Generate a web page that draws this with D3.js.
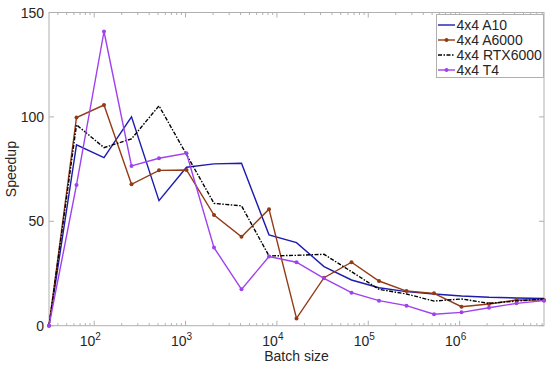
<!DOCTYPE html>
<html>
<head>
<meta charset="utf-8">
<script src="https://cdn.jsdelivr.net/npm/d3@7"></script>
<style>
  body { margin: 0; background: #fff; }
  svg text { font-family: "Liberation Sans", Arial, sans-serif; fill: #262626; }
</style>
</head>
<body>
<svg id="chart" width="550" height="369"></svg>
<script>
// batch sizes (2^5 .. 2^23)
const batchSizes = [32, 64, 128, 256, 512, 1024, 2048, 4096, 8192, 16384, 32768,
                    65536, 131072, 262144, 524288, 1048576, 2097152, 4194304, 8388608];

const speedupA10     = [0, 86.6, 80.5, 100, 59.9, 75.9, 77.5, 77.8, 43.5, 39.8, 28.3, 21.9, 18.2, 16.3, 15.2, 14.2, 13.6, 13.3, 13.0];
const speedupA6000   = [0, 99.7, 105.7, 67.7, 74.4, 74.6, 53.0, 42.6, 55.8, 3.5, 23.0, 30.4, 21.4, 16.6, 15.5, 9.1, 10.4, 12.3, 12.3];
const speedupRTX6000 = [0, 96.2, 85.3, 89.5, 105.3, 82, 58.6, 57.4, 33.4, 33.7, 34.2, 25.9, 17.4, 15.2, 11.8, 12.8, 10.7, 11.8, 12.8];
const speedupT4      = [0, 67.4, 140.9, 76.5, 80.2, 82.6, 37.4, 17.4, 33.1, 30.4, 22.7, 15.8, 12.0, 9.6, 5.5, 6.4, 8.6, 10.7, 12.0];

const seriesNames = ['4x4 A10', '4x4 A6000', '4x4 RTX6000', '4x4 T4'];
const yTicks      = [0, 50, 100, 150];
const xTicks      = [1e2, 1e3, 1e4, 1e5, 1e6];

const LEFT   = 49;
const RIGHT  = 544;
const TOP    = 12.5;
const BOTTOM = 325.7;

const series = [
    { name: seriesNames[0], values: speedupA10,     color: '#1c1cae', dash: null,        marker: false },
    { name: seriesNames[1], values: speedupA6000,   color: '#933a16', dash: null,        marker: true  },
    { name: seriesNames[2], values: speedupRTX6000, color: '#000000', dash: '4,1.5,1.5,1.5', marker: false },
    { name: seriesNames[3], values: speedupT4,      color: '#a040ef', dash: null,        marker: true  }
];

const svg = d3.select('#chart');

const x = d3.scaleLog()
    .domain([batchSizes[0], batchSizes[batchSizes.length - 1]])
    .range([LEFT, RIGHT]);

const y = d3.scaleLinear()
    .domain([0, 150])
    .range([BOTTOM, TOP]);

const axisColor = '#b0b0b0';

// minor ticks for the log axis
const minorTicks = [];
for (let e = 1; e <= 6; e++) {
    for (let m = 2; m <= 9; m++) {
        const v = m * Math.pow(10, e);
        if (v > x.domain()[0] && v < x.domain()[1]) minorTicks.push(v);
    }
}

const grid = svg.append('g');

// x ticks, bottom and top, pointing inward
minorTicks.forEach(v => {
    grid.append('line').attr('x1', x(v)).attr('x2', x(v)).attr('y1', BOTTOM).attr('y2', BOTTOM - 2.5).attr('stroke', axisColor);
    grid.append('line').attr('x1', x(v)).attr('x2', x(v)).attr('y1', TOP).attr('y2', TOP + 2.5).attr('stroke', axisColor);
});
xTicks.forEach(v => {
    grid.append('line').attr('x1', x(v)).attr('x2', x(v)).attr('y1', BOTTOM).attr('y2', BOTTOM - 5).attr('stroke', axisColor);
    grid.append('line').attr('x1', x(v)).attr('x2', x(v)).attr('y1', TOP).attr('y2', TOP + 5).attr('stroke', axisColor);
});

// y ticks, left and right
yTicks.forEach(v => {
    grid.append('line').attr('x1', LEFT).attr('x2', LEFT + 5).attr('y1', y(v)).attr('y2', y(v)).attr('stroke', axisColor);
    grid.append('line').attr('x1', RIGHT).attr('x2', RIGHT - 5).attr('y1', y(v)).attr('y2', y(v)).attr('stroke', axisColor);
});

// box
grid.append('rect')
    .attr('x', LEFT).attr('y', TOP)
    .attr('width', RIGHT - LEFT).attr('height', BOTTOM - TOP)
    .attr('fill', 'none').attr('stroke', axisColor);

// tick labels
svg.selectAll('.ylab')
    .data(yTicks)
    .enter().append('text')
    .attr('x', LEFT - 5)
    .attr('y', d => y(d) + 5)
    .attr('text-anchor', 'end')
    .attr('font-size', 14)
    .text(d => d);

const xl = svg.selectAll('.xlab')
    .data(xTicks)
    .enter().append('text')
    .attr('x', d => x(d) - 4)
    .attr('y', BOTTOM + 20.5)
    .attr('text-anchor', 'middle')
    .attr('font-size', 14);
xl.append('tspan').text('10');
xl.append('tspan').attr('font-size', 10).attr('dy', -6).text(d => Math.round(Math.log10(d)));

// axis titles
svg.append('text')
    .attr('x', (LEFT + RIGHT) / 2)
    .attr('y', 361)
    .attr('text-anchor', 'middle')
    .attr('font-size', 14)
    .text('Batch size');

svg.append('text')
    .attr('transform', `translate(16,${(TOP + BOTTOM) / 2}) rotate(-90)`)
    .attr('text-anchor', 'middle')
    .attr('font-size', 14)
    .text('Speedup');

// lines
const line = d3.line()
    .x((d, i) => x(batchSizes[i]))
    .y(d => y(d));

series.forEach(s => {
    svg.append('path')
        .datum(s.values)
        .attr('d', line)
        .attr('fill', 'none')
        .attr('stroke', s.color)
        .attr('stroke-width', 1.4)
        .attr('stroke-dasharray', s.dash);

    if (s.marker) {
        svg.append('g')
            .selectAll('circle')
            .data(s.values)
            .enter().append('circle')
            .attr('cx', (d, i) => x(batchSizes[i]))
            .attr('cy', d => y(d))
            .attr('r', 2)
            .attr('fill', s.color);
    }
});

// legend
const legend = svg.append('g');
legend.append('rect')
    .attr('x', 436.5).attr('y', 14.5)
    .attr('width', 107).attr('height', 63)
    .attr('fill', '#fff').attr('stroke', axisColor);

series.forEach((s, i) => {
    const ly = 25 + i * 15;
    legend.append('line')
        .attr('x1', 438).attr('x2', 455)
        .attr('y1', ly).attr('y2', ly)
        .attr('stroke', s.color)
        .attr('stroke-width', 1.4)
        .attr('stroke-dasharray', s.dash);
    if (s.marker) {
        legend.append('circle').attr('cx', 446.5).attr('cy', ly).attr('r', 2).attr('fill', s.color);
    }
    legend.append('text')
        .attr('x', 456.5)
        .attr('y', ly + 5)
        .attr('font-size', 14)
        .text(s.name);
});
</script>
</body>
</html>
